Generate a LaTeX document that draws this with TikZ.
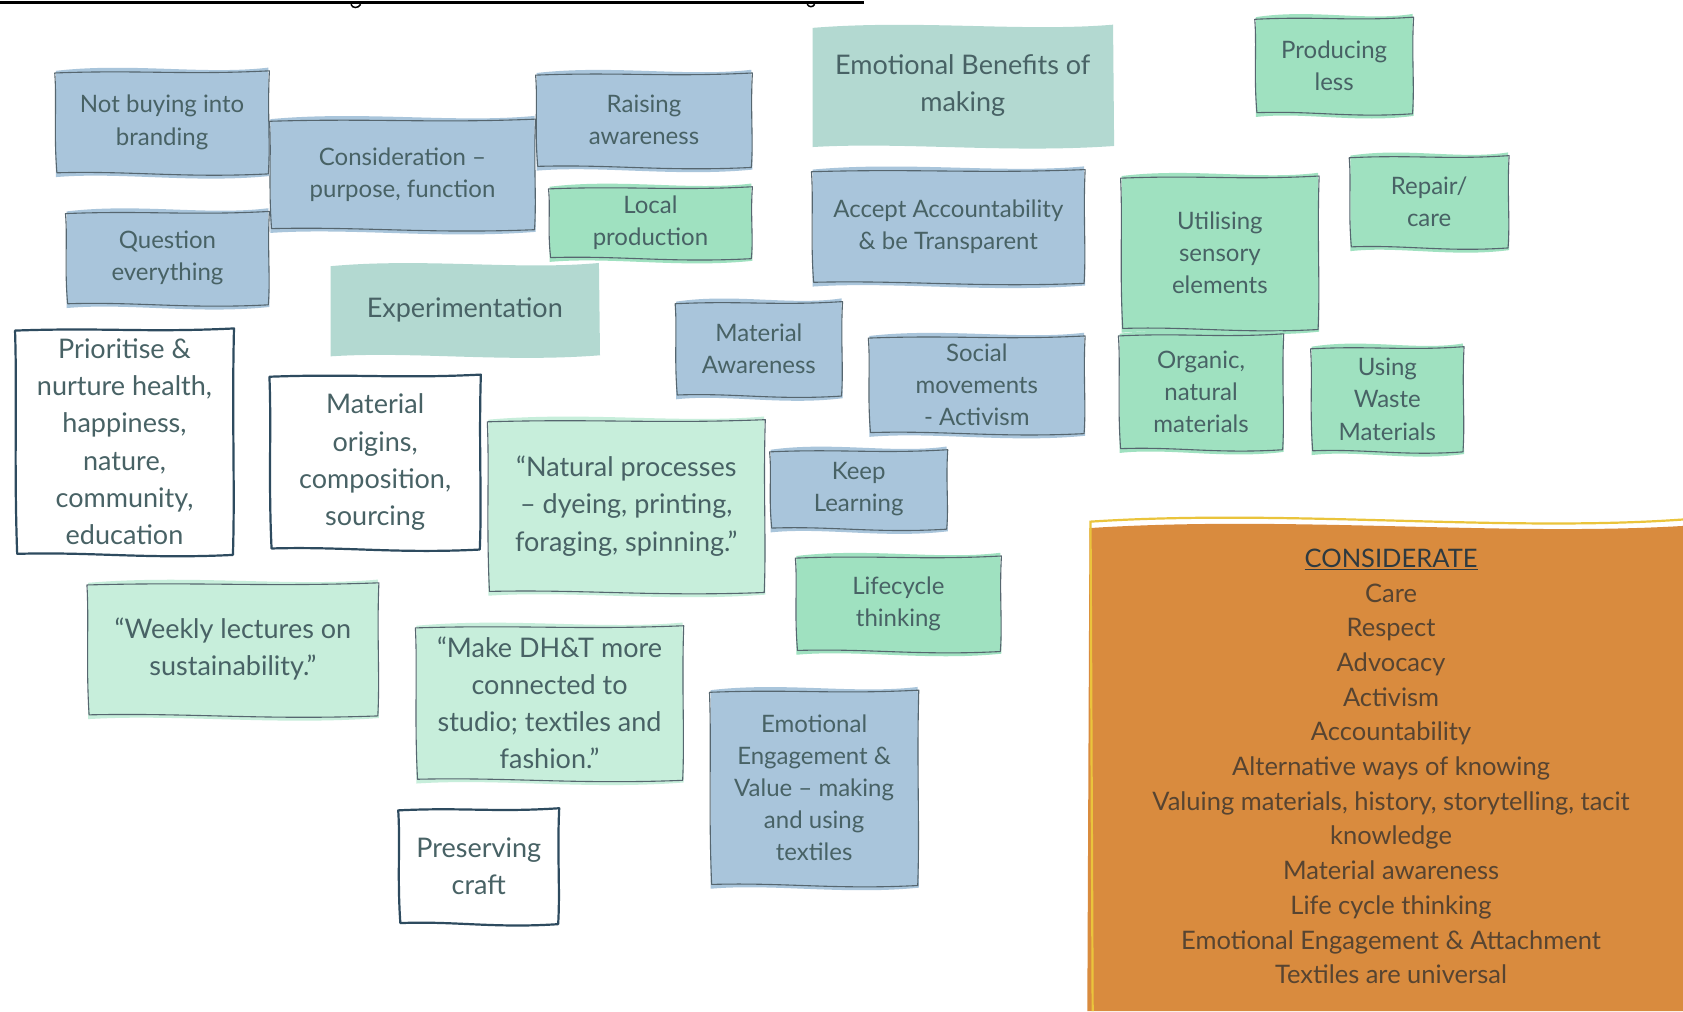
\documentclass[tikz,border=0pt]{standalone}
\usepackage{fontspec}
\setmainfont{Lato}
\definecolor{cardblue}{HTML}{A9C5DB}
\definecolor{cardgreen}{HTML}{9FE1C0}
\definecolor{cardteal}{HTML}{B3D9D1}
\definecolor{cardmint}{HTML}{C7EEDB}
\definecolor{cardorange}{HTML}{D98B3E}
\definecolor{orangeedge}{HTML}{EAC43C}
\definecolor{inkteal}{HTML}{486265}
\definecolor{edgegrey}{HTML}{56666F}
\definecolor{edgenavy}{HTML}{2E4B5F}
\definecolor{inkbrown}{HTML}{574431}
\definecolor{inkdark}{HTML}{2E3A40}

\tikzset{
  cardsmall/.style={font=\fontsize{24}{32.2}\selectfont, text=inkteal, align=center, inner sep=0pt},
  cardlarge/.style={font=\fontsize{27}{37.1}\selectfont, text=inkteal, align=center, inner sep=0pt},
  orangetext/.style={font=\fontsize{25.5}{34.7}\selectfont, text=inkbrown, align=center, inner sep=0pt},
  cardedge/.style={draw=edgegrey, line width=1.1pt, line join=round},
  boldedge/.style={draw=edgenavy, line width=2.2pt, line join=round},
}

% A hand-drawn card: wavy filled sheet, sketchy outline, centred text.
% #1 name, #2 #3 top-left, #4 #5 bottom-right, #6 fill, #7 outline style, #8 text style, #9 text
\newcommand{\sketchcard}[9]{%
  \fill[#6] (#2,{#3+1})
    .. controls ({#2+(#4-#2)*0.35},{#3-7}) and ({#2+(#4-#2)*0.7},{#3+5}) .. (#4,{#3-2})
    -- ({#4+1},{#5+1})
    .. controls ({#2+(#4-#2)*0.65},{#5+8}) and ({#2+(#4-#2)*0.3},{#5-3}) .. (#2,{#5+2})
    -- cycle;
  \draw[#7] ({#2-1},{#3+3})
    .. controls ({#2+(#4-#2)*0.4},{#3}) and ({#2+(#4-#2)*0.6},{#3+5}) .. ({#4+1},{#3+1})
    .. controls ({#4-1},{#3+(#5-#3)*0.4}) and ({#4+2},{#3+(#5-#3)*0.7}) .. (#4,{#5-1})
    .. controls ({#2+(#4-#2)*0.6},{#5+3}) and ({#2+(#4-#2)*0.35},{#5-4}) .. ({#2+1},{#5-2})
    .. controls ({#2-2},{#3+(#5-#3)*0.6}) and ({#2+1},{#3+(#5-#3)*0.3}) .. ({#2-1},{#3+3})
    -- cycle;
  \node[#8] (#1) at ({(#2+#4)/2},{(#3+#5)/2}) {#9};
}

\begin{document}
\begin{tikzpicture}[x=1.0733pt, y=-1.0733pt]
\useasboundingbox (0,0) rectangle (1568,942);
\fill[white] (0,0) rectangle (1568,942);

% rule along the top edge
\draw[line width=3pt] (0,2.5) -- (805,2.5);
\draw[line width=1.5pt] (327,4) .. controls (328,8) and (334,8) .. (336,4);
\draw[line width=1.5pt] (752,4) .. controls (754,7) and (757,7) .. (759,4);

% blue cards
\sketchcard{nobrand}{52}{65}{250}{163}{cardblue}{cardedge}{cardsmall}{Not buying into\\branding}
\sketchcard{consid}{252}{110}{498}{215}{cardblue}{cardedge}{cardsmall}{Consideration –\\purpose, function}
\sketchcard{raise}{500}{67}{700}{157}{cardblue}{cardedge}{cardsmall}{Raising\\awareness}
\sketchcard{question}{62}{196}{250}{285}{cardblue}{cardedge}{cardsmall}{Question\\everything}
\sketchcard{accept}{757}{157}{1010}{265}{cardblue}{cardedge}{cardsmall}{Accept Accountability\\\& be Transparent}
\sketchcard{matawr}{630}{280}{784}{370}{cardblue}{cardedge}{cardsmall}{Material\\Awareness}
\sketchcard{social}{810}{312}{1010}{405}{cardblue}{cardedge}{cardsmall}{Social\\movements\\- Activism}
\sketchcard{keep}{718}{418}{882}{494}{cardblue}{cardedge}{cardsmall}{Keep\\Learning}
\sketchcard{emoeng}{662}{642}{855}{826}{cardblue}{cardedge}{cardsmall}{Emotional\\Engagement \&\\Value – making\\and using\\textiles}

% green cards
\sketchcard{local}{512}{173}{700}{242}{cardgreen}{cardedge}{cardsmall}{Local\\production}
\sketchcard{produce}{1170}{15}{1316}{107}{cardgreen}{cardedge}{cardsmall}{Producing\\less}
\sketchcard{sensory}{1045}{163}{1228}{308}{cardgreen}{cardedge}{cardsmall}{Utilising\\sensory\\elements}
\sketchcard{repair}{1258}{144}{1405}{232}{cardgreen}{cardedge}{cardsmall}{Repair/\\care}
\sketchcard{organic}{1043}{310}{1195}{420}{cardgreen}{cardedge}{cardsmall}{Organic,\\natural\\materials}
\sketchcard{waste}{1222}{322}{1363}{422}{cardgreen}{cardedge}{cardsmall}{Using\\Waste\\Materials}
\sketchcard{lifecycle}{742}{517}{932}{608}{cardgreen}{cardedge}{cardsmall}{Lifecycle\\thinking}

% teal cards
\sketchcard{benefits}{757}{25}{1037}{135}{cardteal}{draw=none}{cardlarge}{Emotional Benefits of\\making}
\sketchcard{experiment}{308}{247}{558}{330}{cardteal}{draw=none}{cardlarge}{Experimentation}

% quotation cards
\sketchcard{natural}{455}{390}{712}{553}{cardmint}{cardedge}{cardlarge}{“Natural processes\\– dyeing, printing,\\foraging, spinning.”}
\sketchcard{weekly}{82}{542}{352}{668}{cardmint}{cardedge}{cardlarge}{“Weekly lectures on\\sustainability.”}
\sketchcard{dht}{388}{582}{636}{728}{cardmint}{cardedge}{cardlarge}{“Make DH\&T more\\connected to\\studio; textiles and\\fashion.”}

% outlined cards
\sketchcard{prioritise}{15}{305}{217}{518}{white}{boldedge}{cardlarge}{Prioritise \&\\nurture health,\\happiness,\\nature,\\community,\\education}
\sketchcard{origins}{252}{348}{447}{513}{white}{boldedge}{cardlarge}{Material\\origins,\\composition,\\sourcing}
\sketchcard{craft}{372}{752}{520}{862}{white}{boldedge}{cardlarge}{Preserving\\craft}

% summary panel
\fill[cardorange] (1015,492) .. controls (1200,480) and (1400,500) .. (1568,490) -- (1568,942) -- (1013,942) -- cycle;
\draw[orangeedge, line width=2.2pt] (1018,942) -- (1016,486) .. controls (1200,474) and (1400,496) .. (1568,484);
\node[orangetext] (considerate) at (1296,714) {{\color{inkdark}\underline{CONSIDERATE}}\\Care\\Respect\\Advocacy\\Activism\\Accountability\\Alternative ways of knowing\\Valuing materials, history, storytelling, tacit\\knowledge\\Material awareness\\Life cycle thinking\\Emotional Engagement \& Attachment\\Textiles are universal};
\end{tikzpicture}
\end{document}
